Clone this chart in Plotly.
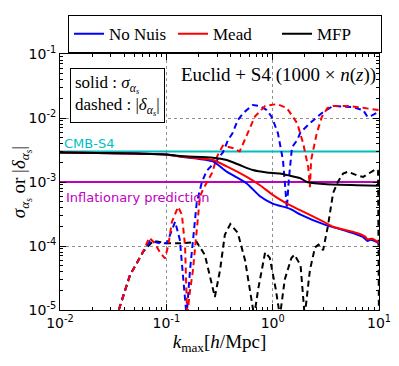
import plotly.graph_objs as go

# k_max [h/Mpc] and sigma / |delta|
k_nonuis_sig = [0.01, 0.05, 0.1, 0.134, 0.2, 0.275, 0.37, 0.57, 0.76, 1.0, 1.46, 1.83, 3.0, 5.0, 7.0, 7.8, 8.3, 9.0, 10.0]
s_nonuis_sig = [0.0029, 0.0028, 0.0027, 0.0025, 0.0023, 0.0021, 0.00145, 0.00095, 0.0006, 0.00046, 0.00038, 0.00031, 0.00022, 0.00017, 0.00014, 0.00012, 0.000125, 0.00012, 0.00011]

k_mead_sig = [0.01, 0.05, 0.1, 0.134, 0.275, 0.37, 0.57, 0.76, 1.0, 1.36, 1.83, 3.0, 3.7, 6.2, 7.4, 7.8, 8.6, 10.0]
s_mead_sig = [0.0029, 0.0028, 0.0027, 0.0025, 0.0022, 0.00175, 0.0012, 0.00089, 0.00063, 0.00046, 0.00036, 0.00024, 0.0002, 0.00016, 0.00014, 0.000127, 0.00013, 0.000112]

k_mfp_sig = [0.01, 0.05, 0.1, 0.134, 0.275, 0.37, 0.49, 0.65, 0.88, 1.17, 1.46, 1.83, 2.1, 3.0, 6.2, 10.0]
s_mfp_sig = [0.0029, 0.0028, 0.0027, 0.00255, 0.0024, 0.0022, 0.00184, 0.00154, 0.00141, 0.00136, 0.00125, 0.00114, 0.001, 0.00093, 0.00089, 0.00087]

k_nonuis_del = [0.033, 0.035, 0.0455, 0.0604, 0.0704, 0.087, 0.101, 0.108, 0.121, 0.134, 0.146, 0.155, 0.167, 0.193, 0.216, 0.24,
                0.3, 0.34, 0.38, 0.42, 0.47, 0.53, 0.65, 0.76, 0.88, 0.98, 1.12, 1.25, 1.3, 1.36, 1.42, 1.52, 1.7, 1.83,
                2.24, 2.98, 3.7, 5.6, 7.1, 7.8, 8.6, 10.0]
d_nonuis_del = [5e-6, 9e-6, 3.5e-5, 8.1e-5, 1.2e-4, 1.1e-4, 1.1e-4, 1.5e-4, 2.4e-4, 1.25e-4, 3e-5, 8e-6, 4.2e-5, 4.7e-4, 1e-3, 1.5e-3,
                2.2e-3, 2.9e-3, 4.5e-3, 5.8e-3, 9.3e-3, 1.2e-2, 1.6e-2, 1.54e-2, 1.33e-2, 1.04e-2, 5.8e-3, 2.2e-3, 1e-3, 3.9e-4, 1.1e-3, 3.5e-3, 4.5e-3, 6e-3,
                8.3e-3, 1.24e-2, 1.54e-2, 1.48e-2, 1.33e-2, 1.04e-2, 1.1e-2, 1.25e-2]

k_mead_del = [0.033, 0.035, 0.0455, 0.0604, 0.069, 0.078, 0.087, 0.097, 0.104, 0.113, 0.129, 0.14, 0.15, 0.157, 0.167, 0.178, 0.207, 0.22,
              0.27, 0.3, 0.34, 0.42, 0.49, 0.58, 0.68, 0.85, 1.1, 1.36, 1.7, 1.93, 2.16, 2.24, 2.3, 2.6, 2.9, 3.27, 3.7, 5.3, 7.8, 10.0]
d_mead_del = [5e-6, 9e-6, 3.5e-5, 8.1e-5, 1.35e-4, 1.1e-4, 8e-5, 6.4e-5, 1.0e-4, 2.4e-4, 4.1e-4, 3.1e-4, 1e-4, 8e-6, 2e-5, 4.2e-5, 5.9e-4, 7.5e-4,
              1.4e-3, 2.5e-3, 3.7e-3, 3.4e-3, 3e-3, 5.7e-3, 1.05e-2, 1.54e-2, 1.65e-2, 1.43e-2, 8.3e-3, 4.1e-3, 1.7e-3, 8.3e-4, 2.2e-3, 5.8e-3, 1.04e-2, 1.43e-2, 1.54e-2, 1.54e-2, 1.43e-2, 1.33e-2]

k_mfp_del = [0.033, 0.035, 0.0455, 0.0604, 0.075, 0.101, 0.134, 0.193, 0.23, 0.286, 0.32, 0.355, 0.40, 0.47, 0.55, 0.64, 0.67, 0.73,
             0.85, 0.94, 1.07, 1.17, 1.3, 1.5, 1.6, 1.83, 2.0, 2.24, 2.5, 2.7, 2.85, 2.98, 3.3, 3.7, 4.1, 4.6, 5.1, 6.2, 7.1, 8.6, 9.4, 9.8, 10.0]
d_mfp_del = [5e-6, 9e-6, 3.5e-5, 8.1e-5, 1.2e-4, 1.1e-4, 1.1e-4, 1.15e-4, 7.3e-5, 1.6e-5, 4.2e-5, 1.5e-4, 2.2e-4, 1.6e-4, 6e-5, 1.4e-5, 8e-6, 2.1e-5,
             8e-5, 6.5e-5, 2.1e-5, 8e-6, 3e-5, 6.5e-5, 7.3e-5, 5e-5, 8e-6, 4.2e-5, 9.5e-5, 1.05e-4, 9.5e-5, 8.6e-5, 2.0e-4, 6.7e-4, 1.0e-3, 1.36e-3, 1.45e-3, 1.27e-3, 1.2e-3, 1.45e-3, 1.6e-3, 1.5e-3, 5e-6]

cmb_s4 = 3e-3
inflation = 1e-3

xtick_vals = [0.01, 0.1, 1, 10]
xtick_text = ["10<sup>-2</sup>", "10<sup>-1</sup>", "10<sup>0</sup>", "10<sup>1</sup>"]
ytick_vals = [1e-5, 1e-4, 1e-3, 1e-2, 1e-1]
ytick_text = ["10<sup>-5</sup>", "10<sup>-4</sup>", "10<sup>-3</sup>", "10<sup>-2</sup>", "10<sup>-1</sup>"]

serif = "Liberation Serif"
sans = "DejaVu Sans"

fig = go.Figure()

# horizontal reference lines
fig.add_trace(go.Scatter(x=[0.01, 10], y=[cmb_s4, cmb_s4], mode="lines", line=dict(color="#00BFBF", width=2), showlegend=False))
fig.add_trace(go.Scatter(x=[0.01, 10], y=[inflation, inflation], mode="lines", line=dict(color="#BF00BF", width=2), showlegend=False))

dash = "6px,4px"
fig.add_trace(go.Scatter(x=k_mfp_del, y=d_mfp_del, mode="lines", line=dict(color="black", width=2, dash=dash), showlegend=False))
fig.add_trace(go.Scatter(x=k_nonuis_del, y=d_nonuis_del, mode="lines", line=dict(color="blue", width=2, dash=dash), showlegend=False))
fig.add_trace(go.Scatter(x=k_mead_del, y=d_mead_del, mode="lines", line=dict(color="red", width=2, dash=dash), showlegend=False))

sm = 0.6
fig.add_trace(go.Scatter(x=k_nonuis_sig, y=s_nonuis_sig, mode="lines", name="No Nuis", line=dict(color="blue", width=2, shape="spline", smoothing=sm)))
fig.add_trace(go.Scatter(x=k_mead_sig, y=s_mead_sig, mode="lines", name="Mead", line=dict(color="red", width=2, shape="spline", smoothing=sm)))
fig.add_trace(go.Scatter(x=k_mfp_sig, y=s_mfp_sig, mode="lines", name="MFP", line=dict(color="black", width=2, shape="spline", smoothing=sm)))

axis_common = dict(showline=True, linecolor="black", linewidth=1, mirror="allticks",
                   ticks="inside", ticklen=6, tickcolor="black", automargin=False,
                   showgrid=True, gridcolor="#909090", griddash="dot", gridwidth=1,
                   zeroline=False, tickfont=dict(family=sans, size=14, color="black"),
                   minor=dict(ticks="inside", ticklen=3, tickcolor="black", dtick="D1", showgrid=False))

fig.update_xaxes(type="log", range=[-2, 1], tickvals=xtick_vals, ticktext=xtick_text,
                 title=dict(text="<i>k</i><sub>max</sub>[<i>h</i>/Mpc]", font=dict(family=serif, size=19, color="black"), standoff=4),
                 **axis_common)
fig.update_yaxes(type="log", range=[-5, -1], tickvals=ytick_vals, ticktext=ytick_text,
                 title=dict(text="<i>σ</i><sub><i>α<sub>s</sub></i></sub> or |<i>δ</i><sub><i>α<sub>s</sub></i></sub>|", font=dict(family=serif, size=19, color="black"), standoff=10),
                 **axis_common)

fig.add_annotation(xref="paper", yref="paper", x=0.006, y=0.652, xanchor="left", yanchor="middle",
                   text="CMB-S4", showarrow=False, font=dict(family=sans, size=13, color="#00BFBF"))
fig.add_annotation(xref="paper", yref="paper", x=0.0125, y=0.441, xanchor="left", yanchor="middle",
                   text="Inflationary prediction", showarrow=False, font=dict(family=sans, size=13, color="#BF00BF"))
fig.add_annotation(xref="paper", yref="paper", x=0.031, y=0.947, xanchor="left", yanchor="top", align="left",
                   text="solid : <i>σ</i><sub><i>α<sub>s</sub></i></sub><br>dashed : |<i>δ</i><sub><i>α<sub>s</sub></i></sub>|",
                   showarrow=False, bordercolor="black", borderwidth=1, borderpad=4, bgcolor="white",
                   font=dict(family=serif, size=17, color="black"))
fig.add_annotation(xref="paper", yref="paper", x=0.997, y=0.918, xanchor="right", yanchor="middle",
                   text="Euclid + S4 (1000 × <i>n</i>(<i>z</i>))", showarrow=False,
                   font=dict(family=serif, size=19, color="black"))

# page body adds an 8px offset, so the figure is 8px smaller and margins shifted
fig.update_layout(autosize=False, width=391, height=358,
                  margin=dict(l=52, r=20, t=46, b=56, autoexpand=False),
                  plot_bgcolor="white", paper_bgcolor="white",
                  legend=dict(orientation="h", xref="container", yref="container",
                              x=0.555, xanchor="center", y=0.98, yanchor="top",
                              bordercolor="black", borderwidth=1, bgcolor="white",
                              font=dict(family=serif, size=17, color="black"),
                              entrywidth=59, entrywidthmode="pixels", itemwidth=30))

fig.write_html("out.html")
